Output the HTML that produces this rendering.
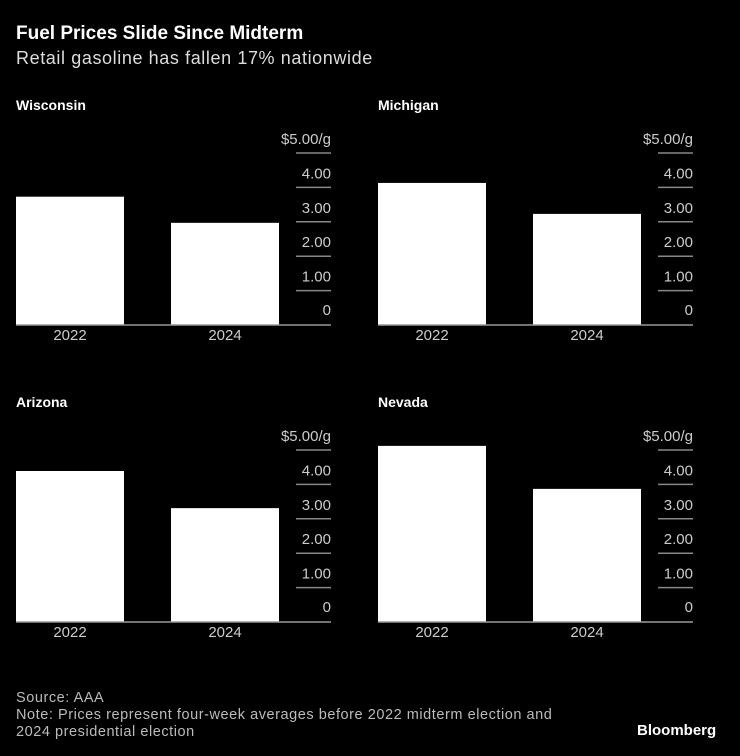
<!DOCTYPE html>
<html><head><meta charset="utf-8"><style>
body{margin:0;background:#000;width:740px;height:756px;overflow:hidden;font-family:"Liberation Sans",sans-serif;color:#fff}
.t{position:absolute;white-space:nowrap}
</style></head><body>
<div class="t" style="left:16px;top:23px;font-size:19px;font-weight:bold">Fuel Prices Slide Since Midterm</div>
<div class="t" style="left:16px;top:48px;font-size:18px;letter-spacing:0.6px;color:#ddd">Retail gasoline has fallen 17% nationwide</div>
<svg id="c" width="740" height="756" style="position:absolute;left:0;top:0"></svg>
<div class="t" style="left:16px;top:690px;font-size:14.5px;letter-spacing:0.55px;color:#bbb;line-height:17px">Source: AAA<br>Note: Prices represent four-week averages before 2022 midterm election and<br>2024 presidential election</div>
<div class="t" style="left:637px;top:722px;font-size:15px;font-weight:bold">Bloomberg</div>
<script>
const states=["Wisconsin","Michigan","Arizona","Nevada"];
const years=["2022","2024"];
const v2022=[3.73,4.13,4.39,5.12];
const v2024=[2.97,3.23,3.31,3.87];
const ticks=[0,1,2,3,4,5];
const tickLabels=["0","1.00","2.00","3.00","4.00","$5.00/g"];
const svg=document.getElementById('c');const NS="http://www.w3.org/2000/svg";
function mk(t,a,txt){const e=document.createElementNS(NS,t);for(const k in a)e.setAttribute(k,a[k]);if(txt!=null)e.textContent=txt;svg.appendChild(e);return e;}
const pxPer=34.4;
states.forEach((s,i)=>{
 const ox=i%2?362:0, base=i<2?325:622;
 const y=v=>base-v*pxPer;
 let e=mk('text',{x:16+ox,y:base-215,'font-size':14,'font-weight':'bold',fill:'#fff'},s);
 
 
 ticks.forEach((t,j)=>{
  if(t>0){e=mk('line',{x1:296+ox,x2:331+ox,y1:y(t),y2:y(t),stroke:'#888','stroke-width':1.5});
  
  }
  e=mk('text',{x:331+ox,y:y(t)+(t>0?-9:-10),'font-size':15,'text-anchor':'end',fill:'#ccc'},tickLabels[j]);
  
  
 });
 [v2022[i],v2024[i]].forEach((v,k)=>{
  const x=16+ox+k*155;
  e=mk('rect',{x:x,y:y(v),width:108,height:v*pxPer,fill:'#fff'});
  
  
  e=mk('text',{x:x+54,y:base+15,'font-size':15,'text-anchor':'middle',fill:'#ccc'},years[k]);
  
  
 });
 e=mk('line',{x1:16+ox,x2:331+ox,y1:base,y2:base,stroke:'#999','stroke-width':1.5});
 
 
});
</script>
</body></html>
